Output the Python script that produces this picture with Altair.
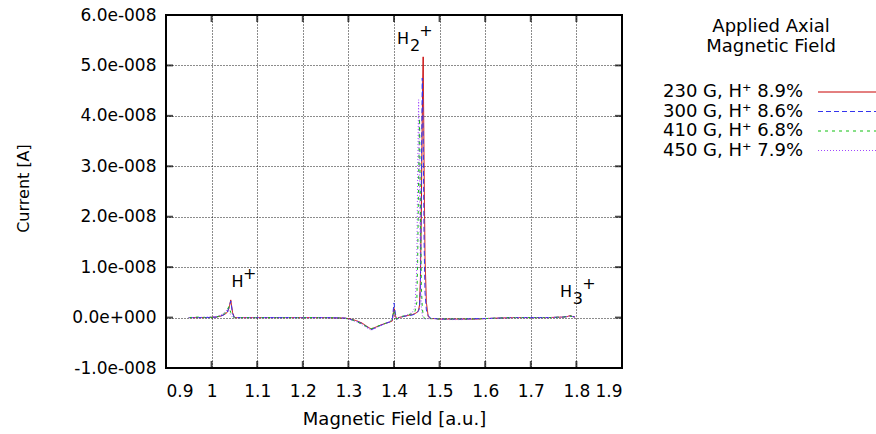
import altair as alt
import pandas as pd

# Magnetic field [a.u.]
field = [0.950, 0.970, 0.990, 1.010, 1.020, 1.028, 1.034, 1.038, 1.042, 1.046,
         1.050, 1.060, 1.080, 1.100, 1.150, 1.200, 1.250, 1.290, 1.300, 1.310,
         1.320, 1.330, 1.340, 1.350, 1.360, 1.370, 1.380, 1.390, 1.396, 1.400,
         1.403, 1.406, 1.410, 1.420, 1.430, 1.440, 1.446, 1.450, 1.452, 1.454,
         1.456, 1.458, 1.460, 1.462, 1.464, 1.466, 1.468, 1.471, 1.475, 1.480,
         1.490, 1.500, 1.520, 1.550, 1.580, 1.600, 1.630, 1.660, 1.700, 1.740,
         1.770, 1.780, 1.786, 1.792, 1.797]

# Current in units of 1e-8 A
cur_230 = [0.00, 0.00, 0.00, 0.01, 0.03, 0.06, 0.10, 0.18, 0.35, 0.10,
           0.00, 0.00, 0.00, 0.00, 0.00, 0.00, 0.00, -0.01, -0.02, -0.04,
           -0.07, -0.11, -0.17, -0.23, -0.19, -0.15, -0.12, -0.09, -0.07, 0.18,
           0.04, -0.03, 0.00, 0.02, 0.04, 0.06, 0.08, 0.10, 0.12, 0.15,
           0.25, 0.80, 2.20, 4.00, 5.17, 3.00, 1.20, 0.30, 0.02, -0.02,
           -0.02, -0.03, -0.03, -0.03, -0.03, -0.02, -0.01, 0.00, 0.00, 0.00,
           0.01, 0.02, 0.04, 0.02, 0.01]
cur_300 = [0.00, 0.00, 0.00, 0.01, 0.03, 0.06, 0.10, 0.20, 0.33, 0.08,
           0.00, 0.00, 0.00, 0.00, 0.00, 0.00, 0.00, -0.01, -0.02, -0.05,
           -0.08, -0.12, -0.18, -0.24, -0.20, -0.16, -0.12, -0.09, -0.06, 0.29,
           0.08, -0.04, 0.00, 0.02, 0.04, 0.05, 0.07, 0.09, 0.11, 0.14,
           0.20, 0.60, 2.80, 4.75, 3.60, 1.50, 0.50, 0.15, 0.04, -0.01,
           -0.02, -0.03, -0.03, -0.03, -0.02, -0.02, -0.01, 0.00, 0.00, 0.00,
           0.01, 0.02, 0.03, 0.02, 0.01]
cur_410 = [0.00, 0.01, 0.00, 0.01, 0.04, 0.08, 0.15, 0.22, 0.10, 0.02,
           0.00, 0.00, 0.00, 0.00, 0.00, 0.00, 0.00, -0.01, -0.03, -0.05,
           -0.09, -0.13, -0.18, -0.22, -0.19, -0.15, -0.12, -0.08, -0.05, 0.15,
           0.03, -0.03, 0.00, 0.03, 0.05, 0.08, 0.12, 0.30, 1.20, 2.80,
           3.95, 2.00, 0.60, 0.20, 0.05, 0.00, -0.02, -0.02, -0.02, -0.02,
           -0.02, -0.03, -0.03, -0.03, -0.03, -0.02, -0.01, 0.00, 0.00, 0.00,
           0.01, 0.02, 0.03, 0.02, 0.01]
cur_450 = [0.00, 0.00, 0.01, 0.02, 0.05, 0.10, 0.15, 0.12, 0.05, 0.01,
           0.00, 0.00, 0.00, 0.00, 0.00, 0.00, 0.00, -0.01, -0.03, -0.06,
           -0.09, -0.14, -0.20, -0.25, -0.21, -0.16, -0.12, -0.08, -0.05, 0.12,
           0.02, -0.04, -0.01, 0.03, 0.06, 0.10, 0.20, 1.00, 3.00, 4.32,
           2.50, 0.80, 0.20, 0.05, -0.02, -0.04, -0.03, -0.02, -0.02, -0.02,
           -0.02, -0.03, -0.04, -0.04, -0.03, -0.02, -0.01, 0.00, 0.00, 0.00,
           0.01, 0.02, 0.03, 0.02, 0.01]

series_labels = ["230 G, H\u207a 8.9%", "300 G, H\u207a 8.6%",
                 "410 G, H\u207a 6.8%", "450 G, H\u207a 7.9%"]
series_colors = ["#c80000", "#3434ee", "#10c010", "#a048ff"]
series_dashes = [[1, 0], [5, 3], [3, 4], [1, 2]]

x_ticks = [0.9, 1.0, 1.1, 1.2, 1.3, 1.4, 1.5, 1.6, 1.7, 1.8, 1.9]
y_ticks = [-1, 0, 1, 2, 3, 4, 5, 6]

# peak annotations
ann_x = [1.057, 1.4197, 1.777]
ann_y = [0.71, 5.52, 0.51]
ann_sub = ["", "2", "3"]

rows = []
for lab, ys in zip(series_labels, [cur_230, cur_300, cur_410, cur_450]):
    for xv, yv in zip(field, ys):
        rows.append({"x": xv, "y": yv, "series": lab})
df = pd.DataFrame(rows)

FONT = "DejaVu Sans"
xscale = alt.Scale(domain=[0.9, 1.9], nice=False, zero=False)
yscale = alt.Scale(domain=[-1, 6], nice=False, zero=False)

x_axis = alt.Axis(values=x_ticks, format="~g", title="Magnetic Field [a.u.]",
                  labelPadding=15,
                  titleFontSize=18, titleY=56, titleBaseline="alphabetic")
y_axis = alt.Axis(values=y_ticks, title="Current [A]",
                  labelExpr="datum.value == 0 ? '0.0e+000' : (datum.value < 0 ? '-' : '') + format(abs(datum.value), '.1f') + 'e-008'",
                  titleFontSize=16, titleX=-143, titleY=173, titleBaseline="middle",
                  titleAlign="center", titleAngle=270)

legend = alt.Legend(
    title=["Applied Axial", "Magnetic Field"],
    orient="none", legendX=496, legendY=3,
    titleAnchor="middle", titleAlign="center", titleFontSize=18,
    titleFontWeight="normal", titleLineHeight=20, titlePadding=27,
    titleColor="black", titleFont=FONT,
    labelFontSize=18, labelFont=FONT, labelColor="black", labelAlign="right",
    labelOffset={"expr": "-32"}, labelLimit=300, symbolOffset=155,
    symbolType="M-1,0H6.5", symbolSize=256, symbolStrokeWidth=1,
    rowPadding=1.5, padding=0,
)

lines = alt.Chart(df).mark_line(strokeWidth=1).encode(
    x=alt.X("x:Q", scale=xscale, axis=x_axis),
    y=alt.Y("y:Q", scale=yscale, axis=y_axis),
    color=alt.Color("series:N", scale=alt.Scale(domain=series_labels, range=series_colors),
                    legend=legend),
    strokeDash=alt.StrokeDash("series:N", scale=alt.Scale(domain=series_labels, range=series_dashes),
                              legend=legend),
    order=alt.Order("series:N"),
)

xt = pd.DataFrame({"x": x_ticks})
yt = pd.DataFrame({"y": y_ticks})
tick_kw = dict(color="black", thickness=2, size=14, clip=True)
bottom_ticks = alt.Chart(xt).mark_tick(orient="vertical", **tick_kw).encode(
    x=alt.X("x:Q", scale=xscale, axis=x_axis), y=alt.YDatum(-1, scale=yscale, axis=y_axis))
top_ticks = alt.Chart(xt).mark_tick(orient="vertical", **tick_kw).encode(
    x=alt.X("x:Q", scale=xscale, axis=x_axis), y=alt.YDatum(6, scale=yscale, axis=y_axis))
left_ticks = alt.Chart(yt).mark_tick(orient="horizontal", **tick_kw).encode(
    y=alt.Y("y:Q", scale=yscale, axis=y_axis), x=alt.XDatum(0.9, scale=xscale, axis=x_axis))
right_ticks = alt.Chart(yt).mark_tick(orient="horizontal", **tick_kw).encode(
    y=alt.Y("y:Q", scale=yscale, axis=y_axis), x=alt.XDatum(1.9, scale=xscale, axis=x_axis))

ann = pd.DataFrame({"x": ann_x, "y": ann_y, "sub": ann_sub})
txt_kw = dict(font=FONT, fontSize=16, color="black", baseline="middle", align="center")
enc = dict(x=alt.X("x:Q", scale=xscale, axis=x_axis), y=alt.Y("y:Q", scale=yscale, axis=y_axis))
ann_h = alt.Chart(ann).mark_text(**txt_kw).encode(text=alt.value("H"), **enc)
ann_s = alt.Chart(ann).transform_filter("datum.sub != ''").mark_text(
    dx=12, dy=7, **txt_kw).encode(text="sub:N", **enc)
ann_p1 = alt.Chart(ann).transform_filter("datum.sub != ''").mark_text(
    dx=23, dy=-8, **txt_kw).encode(text=alt.value("+"), **enc)
ann_p0 = alt.Chart(ann).transform_filter("datum.sub == ''").mark_text(
    dx=12, dy=-8, **txt_kw).encode(text=alt.value("+"), **enc)

chart = alt.layer(
    lines, bottom_ticks, top_ticks, left_ticks, right_ticks, ann_h, ann_s, ann_p1, ann_p0
).properties(
    width=456, height=353,
    autosize=alt.AutoSizeParams(type="none"),
    padding={"left": 166, "top": 15, "right": 254, "bottom": 66},
    background="white",
).configure_view(
    stroke="black", strokeWidth=2,
).configure_axis(
    grid=True, gridColor="black", gridDash=[1, 2], gridWidth=1, gridOpacity=0.9,
    domain=False, ticks=False,
    labelFont=FONT, labelFontSize=17, labelColor="black", labelPadding=10,
    titleFont=FONT, titleFontSize=16, titleFontWeight="normal", titleColor="black",
).configure_text(font=FONT)

chart.save("out.html", embed_options={"renderer": "svg", "actions": False})
